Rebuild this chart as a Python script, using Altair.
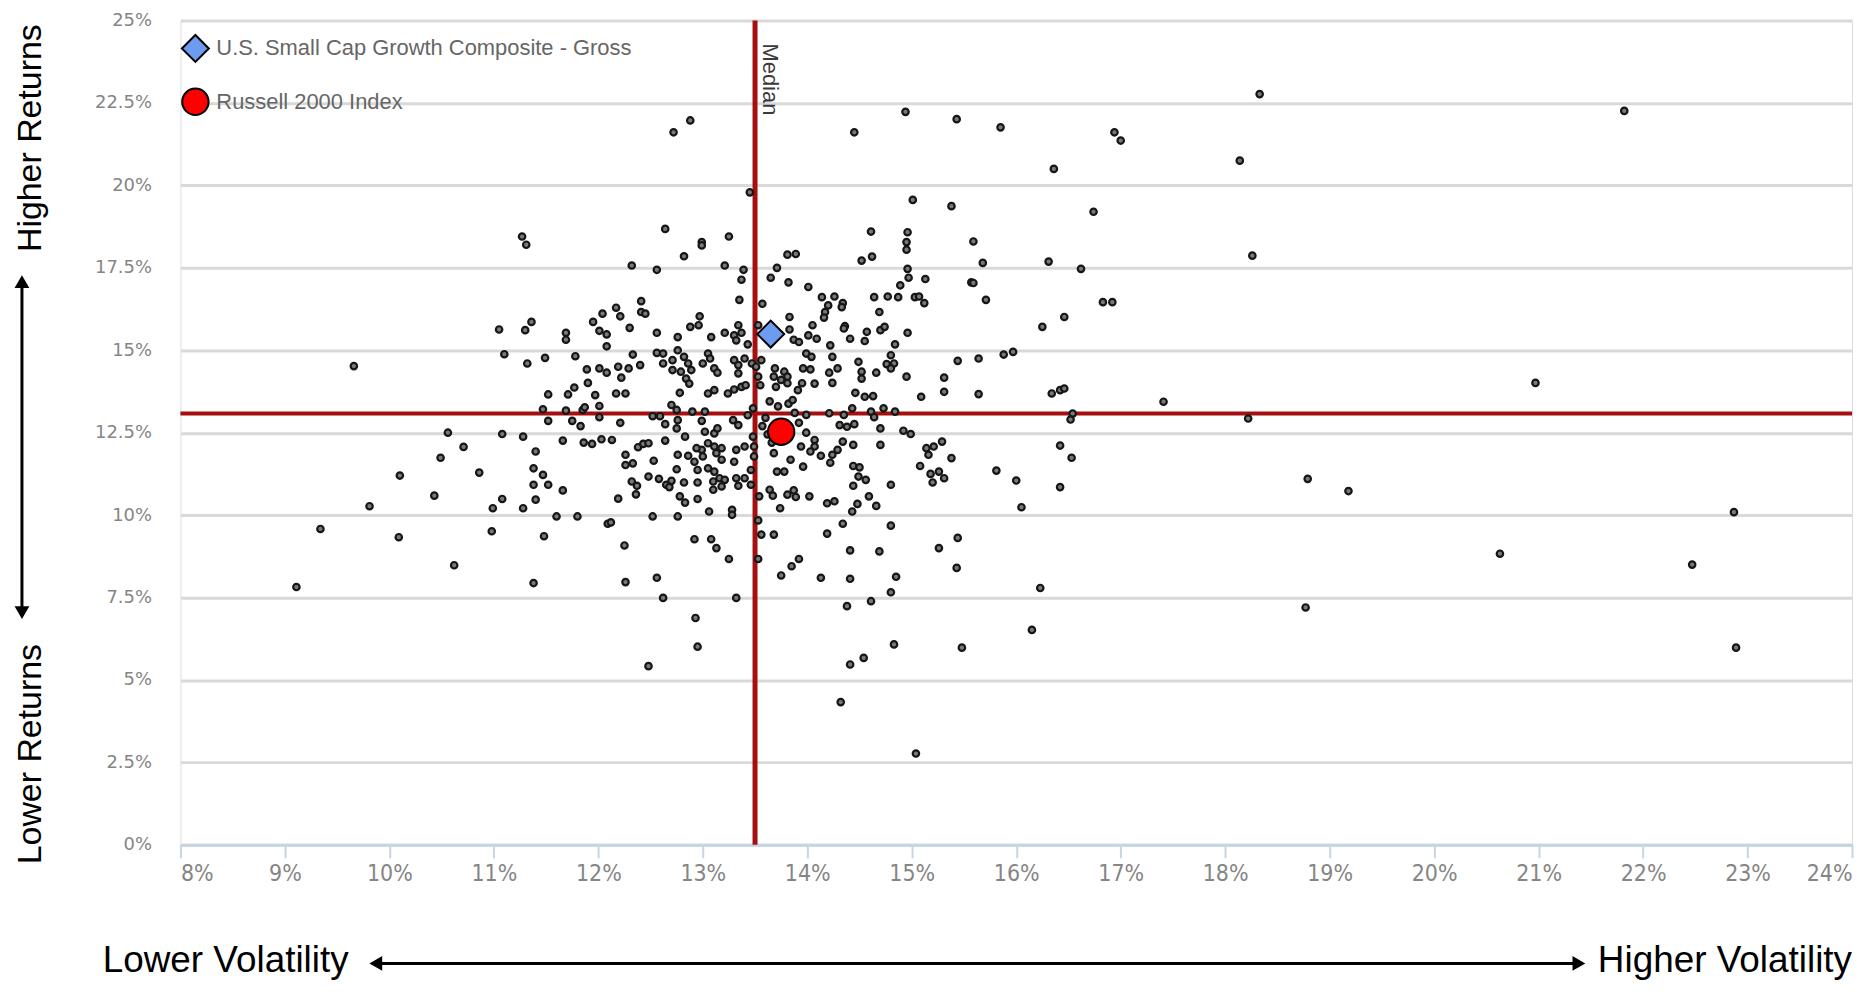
import altair as alt
import pandas as pd

# ---------------- data (annualised volatility %, annualised return %) ----------------
peers_core_upper_left = [
    [13.45, 19.79], [11.27, 18.45], [11.31, 18.20], [12.64, 18.68], [12.99, 18.28], [12.99, 18.18],
    [13.25, 18.45], [12.82, 17.85], [12.32, 17.57], [12.56, 17.44], [13.21, 17.57], [13.39, 17.44],
    [13.37, 17.14], [13.35, 16.53], [13.57, 16.41], [12.41, 16.49], [12.41, 16.16], [12.45, 16.11],
    [12.17, 16.29], [12.21, 16.03], [12.04, 16.11], [11.95, 15.86], [12.01, 15.59], [12.08, 15.48],
    [12.08, 15.12], [12.30, 15.68], [12.56, 15.53], [12.76, 15.40], [12.97, 16.03], [12.96, 15.76],
    [12.88, 15.71], [13.08, 15.40], [13.21, 15.53], [13.34, 15.76], [13.30, 15.45], [13.37, 15.53],
    [13.32, 15.30], [13.43, 15.18], [13.53, 15.76], [11.05, 15.63], [11.30, 15.61], [11.36, 15.86],
    [11.69, 15.53], [11.69, 15.32], [11.10, 14.88], [11.32, 14.60], [11.49, 14.77], [11.78, 14.82],
    [12.33, 14.87], [12.40, 14.55], [11.89, 14.42], [12.01, 14.45], [12.08, 14.32], [12.19, 14.50],
    [12.22, 14.17], [12.29, 14.45], [11.90, 14.01], [11.52, 13.66], [11.71, 13.66], [11.77, 13.87],
    [11.97, 13.64], [12.17, 13.69], [12.26, 13.69], [12.56, 14.92], [12.62, 14.90], [12.62, 14.60],
    [12.71, 14.70], [12.76, 15.00], [12.82, 14.80], [12.71, 14.40], [12.79, 14.35], [12.86, 14.60],
    [12.89, 14.40], [12.84, 14.14], [12.87, 13.99], [13.00, 14.60], [13.05, 14.90], [13.07, 14.75],
    [13.11, 14.45], [13.14, 14.32], [13.30, 14.70], [13.34, 14.55], [13.40, 14.75], [13.47, 14.60],
    [13.51, 14.50], [13.56, 14.70], [13.53, 14.20], [13.34, 14.30], [13.37, 13.89], [13.41, 13.94],
    [13.55, 13.94], [12.78, 13.71], [13.05, 13.69], [13.11, 13.79], [13.24, 13.69], [13.30, 13.81],
]

peers_core_upper_right = [
    [15.01, 19.56], [15.38, 19.37], [14.61, 18.60], [14.96, 18.58], [14.95, 18.28], [14.95, 18.05],
    [15.59, 18.30], [13.81, 17.90], [13.89, 17.92], [14.52, 17.72], [14.62, 17.84], [15.68, 17.65],
    [16.31, 17.69], [13.71, 17.50], [13.65, 17.20], [13.82, 17.06], [14.01, 16.92], [14.96, 17.47],
    [14.97, 17.20], [15.13, 17.16], [14.89, 16.97], [15.57, 17.06], [15.59, 17.04], [15.71, 16.53],
    [14.14, 16.61], [14.26, 16.63], [14.20, 16.36], [14.34, 16.43], [14.33, 16.31], [14.17, 16.16],
    [14.16, 15.99], [14.64, 16.61], [14.77, 16.63], [14.87, 16.61], [15.03, 16.61], [15.07, 16.63],
    [15.12, 16.43], [14.69, 16.16], [13.83, 16.01], [14.05, 15.76], [14.01, 15.45], [14.09, 15.35],
    [14.36, 15.73], [14.35, 15.66], [14.41, 15.35], [14.57, 15.56], [14.55, 15.28], [14.70, 15.61],
    [14.74, 15.71], [14.96, 15.53], [13.83, 15.63], [13.87, 15.32], [13.92, 15.25], [14.22, 15.15],
    [14.24, 14.80], [13.99, 14.90], [14.04, 14.80], [14.84, 15.18], [14.80, 14.85], [14.76, 14.58],
    [14.83, 14.60], [14.80, 14.45], [14.49, 14.65], [14.52, 14.35], [14.52, 14.14], [14.66, 14.32],
    [14.95, 14.20], [15.31, 14.17], [15.44, 14.68], [15.64, 14.75], [15.88, 14.87], [15.97, 14.95],
    [16.25, 15.71], [16.46, 16.01], [13.69, 14.45], [13.78, 14.35], [13.68, 14.20], [13.75, 14.10],
    [13.81, 14.00], [13.70, 13.89], [13.81, 14.20], [13.96, 14.45], [14.03, 14.42], [13.95, 14.00],
    [13.91, 13.79], [14.21, 14.32], [14.29, 14.45], [14.24, 14.01], [14.07, 13.99], [14.46, 13.71],
    [14.55, 13.59], [14.63, 13.61], [15.09, 13.59], [15.31, 13.74], [15.64, 13.67], [16.34, 13.69],
    [16.42, 13.79], [16.46, 13.84],
]

peers_core_lower_left = [
    [11.47, 13.21], [11.69, 13.17], [11.85, 13.19], [11.87, 13.27], [12.01, 13.31], [12.01, 12.97],
    [11.52, 12.86], [11.75, 12.86], [11.83, 12.70], [12.21, 12.80], [11.08, 12.46], [11.28, 12.38],
    [11.66, 12.26], [11.86, 12.20], [11.94, 12.16], [12.03, 12.30], [12.13, 12.28], [11.40, 11.93],
    [10.86, 11.29], [11.38, 11.42], [11.47, 11.22], [11.52, 10.92], [11.38, 10.92], [11.66, 10.75],
    [11.08, 10.49], [10.99, 10.21], [11.28, 10.21], [11.40, 10.47], [11.60, 9.96], [11.80, 9.96],
    [12.09, 9.74], [12.12, 9.78], [10.98, 9.51], [11.48, 9.36], [12.25, 9.08], [12.19, 10.50],
    [12.32, 11.02], [12.37, 10.89], [12.36, 10.63], [12.26, 11.83], [12.26, 11.52], [12.33, 11.57],
    [12.38, 12.06], [12.43, 12.16], [12.48, 12.18], [12.52, 13.00], [12.59, 13.00], [12.64, 12.76],
    [12.64, 12.26], [12.53, 11.65], [12.48, 11.17], [12.58, 11.10], [12.65, 10.92], [12.70, 11.04],
    [12.68, 10.85], [12.78, 10.57], [12.83, 10.38], [12.52, 9.96], [12.76, 9.96], [12.95, 10.49],
    [12.82, 10.99], [12.95, 10.99], [12.75, 11.39], [12.76, 11.83], [12.83, 12.38], [12.70, 13.34],
    [12.75, 13.19], [12.76, 12.88], [12.75, 12.63], [12.90, 13.14], [12.99, 12.86], [13.02, 12.53],
    [13.05, 12.18], [12.99, 11.98], [12.86, 11.80], [12.92, 11.62], [12.95, 11.37], [13.05, 11.42],
    [13.11, 12.48], [13.14, 12.63], [13.11, 12.08], [13.18, 12.03], [13.13, 11.88], [13.18, 11.68],
    [13.11, 11.32], [13.16, 11.12], [13.18, 10.87], [13.10, 10.77], [13.10, 11.02], [13.21, 11.07],
    [13.30, 11.62], [13.32, 11.98], [13.32, 11.12], [13.34, 10.89], [13.29, 12.88], [13.34, 12.73],
    [13.43, 13.03], [13.48, 13.24], [13.40, 12.08], [13.48, 12.38], [13.49, 12.08], [13.49, 11.78],
    [13.46, 11.37], [13.46, 10.92], [13.40, 11.12], [13.54, 10.57], [13.06, 10.11], [13.28, 10.16],
    [13.28, 10.01], [12.92, 9.27], [13.08, 9.27], [13.13, 9.00], [13.25, 8.67], [13.53, 9.84],
    [13.56, 9.41], [13.53, 8.67], [11.38, 7.94], [12.26, 7.97], [12.56, 8.10], [12.62, 7.49],
    [13.32, 7.49], [12.94, 12.03], [13.00, 11.78], [13.02, 13.14],
]

peers_core_lower_right = [
    [13.99, 13.04], [14.21, 13.09], [14.35, 13.04], [14.43, 13.24], [14.61, 13.14], [14.64, 12.97],
    [14.73, 13.24], [14.84, 13.14], [14.31, 12.73], [14.45, 12.76], [14.38, 12.68], [14.70, 12.63],
    [14.92, 12.56], [14.99, 12.46], [13.99, 12.50], [14.07, 12.28], [14.07, 12.08], [13.94, 12.08],
    [14.34, 12.23], [14.29, 11.98], [14.24, 11.83], [14.22, 11.59], [14.13, 11.80], [14.03, 11.93],
    [14.44, 12.13], [14.70, 12.13], [13.68, 11.88], [13.84, 11.68], [13.96, 11.47], [13.71, 11.32],
    [13.78, 11.32], [13.64, 10.77], [13.67, 10.59], [13.81, 10.62], [13.87, 10.75], [13.89, 10.55],
    [14.02, 10.57], [13.74, 10.21], [14.44, 11.49], [14.50, 11.45], [14.49, 11.17], [14.56, 11.07],
    [14.44, 10.89], [14.80, 10.92], [14.59, 10.57], [14.66, 10.28], [14.48, 10.34], [14.43, 10.11],
    [14.19, 10.36], [14.26, 10.42], [14.34, 9.74], [14.19, 9.44], [13.68, 9.41], [14.80, 9.68],
    [15.14, 12.03], [15.21, 12.08], [15.16, 11.83], [15.29, 12.23], [15.38, 11.73], [15.08, 11.49],
    [15.18, 11.25], [15.26, 11.32], [15.31, 11.12], [15.20, 10.99], [15.81, 11.35], [16.00, 11.05],
    [16.05, 10.24], [16.42, 12.11], [16.42, 10.85], [14.41, 8.93], [14.69, 8.90], [13.92, 8.67],
    [13.85, 8.45], [13.75, 8.17], [14.13, 8.10], [14.41, 8.07], [14.85, 8.13], [14.80, 7.66],
    [15.26, 9.00], [15.44, 9.31], [15.43, 8.40], [16.23, 7.79], [14.38, 7.24], [14.61, 7.39],
    [13.64, 13.45], [13.72, 13.30], [13.82, 13.38], [13.86, 13.49], [13.60, 12.95], [13.57, 12.70],
    [13.62, 12.45], [13.66, 12.20], [13.92, 12.80], [13.88, 13.10],
]

peers_outer = [
    [12.93, 6.88], [12.95, 6.01], [12.48, 5.42], [14.32, 4.33], [14.41, 5.47], [14.54, 5.67],
    [14.83, 6.08], [15.04, 2.77], [15.48, 5.98], [16.15, 6.52], [10.62, 8.48], [10.56, 12.50],
    [10.71, 12.07], [9.11, 7.82], [9.34, 9.58], [9.66, 14.52], [9.81, 10.27], [10.09, 9.33],
    [10.10, 11.20], [10.43, 10.59], [10.49, 11.74],
    [12.72, 21.61], [12.88, 21.97], [14.45, 21.61], [14.94, 22.23], [15.43, 22.01], [15.85, 21.76],
    [16.36, 20.50], [16.94, 21.61], [17.00, 21.36], [18.33, 22.77], [21.82, 22.26], [18.14, 20.75],
    [16.74, 19.20], [18.26, 17.87], [16.62, 17.47], [16.92, 16.46], [16.83, 16.46], [17.41, 13.44],
    [20.97, 14.01], [18.22, 12.93], [16.54, 13.08], [16.52, 12.90], [16.53, 11.74], [18.79, 11.10],
    [19.18, 10.73], [22.87, 10.09], [20.63, 8.83], [22.47, 8.50], [18.77, 7.20], [22.89, 5.98],
]

highlight_names = ["U.S. Small Cap Growth Composite - Gross", "Russell 2000 Index"]
highlight_vol = [13.65, 13.75]
highlight_ret = [15.49, 12.53]
highlight_colors = ["#6c9bef", "#ff0000"]
highlight_shapes = ["diamond", "circle"]

median_vol = [13.5]
median_ret = [13.08]

x_ticks = list(range(8, 25))
y_ticks = [0, 2.5, 5, 7.5, 10, 12.5, 15, 17.5, 20, 22.5, 25]

# ---------------- chart ----------------
W, H = 1677, 827
NARROW = "Liberation Sans Narrow, DejaVu Sans Condensed, Liberation Sans, sans-serif"
SANS = "Liberation Sans, Arial, sans-serif"
RED = "#a50f0f"

all_pairs = (peers_core_upper_left + peers_core_upper_right + peers_core_lower_left
             + peers_core_lower_right + peers_outer)
peers_df = pd.DataFrame(all_pairs, columns=["vol", "ret"])

xs = alt.Scale(domain=[8, 24], nice=False, zero=False)
ys = alt.Scale(domain=[0, 25], nice=False, zero=False)

x_axis = alt.Axis(values=x_ticks, labelExpr="datum.value + '%'", title=None, grid=False,
                  domainColor="#c6d5e4", domainWidth=3, ticks=True, tickColor="#c6d5e4",
                  tickWidth=2, tickSize=13, labelFont=NARROW, labelFontSize=23,
                  labelColor="#858585", labelPadding=5)
y_axis = alt.Axis(values=y_ticks, labelExpr="datum.value + '%'", title=None, grid=True,
                  gridColor="#d9d9d9", gridWidth=3, domain=False, ticks=False, tickSize=0,
                  labelFont="DejaVu Sans", labelFontSize=18, labelColor="#858585",
                  labelPadding=29)

med_v = alt.Chart(pd.DataFrame({"vol": median_vol})).mark_rule(color=RED, strokeWidth=5).encode(
    x=alt.X("vol:Q", scale=xs, axis=x_axis))
med_h = alt.Chart(pd.DataFrame({"ret": median_ret})).mark_rule(color=RED, strokeWidth=4).encode(
    y=alt.Y("ret:Q", scale=ys, axis=y_axis))

peers = alt.Chart(peers_df).mark_point(shape="circle", filled=True, size=42, fill="#7a7a7a",
                                       stroke="#161616", strokeWidth=2.2, opacity=1).encode(
    x=alt.X("vol:Q", scale=xs), y=alt.Y("ret:Q", scale=ys))

hl_df = pd.DataFrame({"name": highlight_names, "vol": highlight_vol, "ret": highlight_ret})
legend = alt.Legend(orient="none", legendX=0, legendY=13, title=None, direction="vertical",
                    labelFont=SANS, labelFontSize=22, labelColor="#666666", labelOffset=6,
                    labelLimit=0, symbolSize=560, symbolStrokeColor="black", symbolStrokeWidth=2,
                    rowPadding=18, padding=0)
highlights = alt.Chart(hl_df).mark_point(filled=True, opacity=1, stroke="black", strokeWidth=2).encode(
    x=alt.X("vol:Q", scale=xs), y=alt.Y("ret:Q", scale=ys),
    color=alt.Color("name:N", scale=alt.Scale(domain=highlight_names, range=highlight_colors), legend=legend),
    shape=alt.Shape("name:N", scale=alt.Scale(domain=highlight_names, range=highlight_shapes), legend=legend),
    size=alt.Size("name:N", scale=alt.Scale(domain=highlight_names, range=[730, 700]), legend=None),
)


def label(text, x, y, angle=0, align="center", size=36, font=SANS, color="black"):
    return alt.Chart(pd.DataFrame({"t": [text]})).mark_text(
        angle=angle, align=align, baseline="alphabetic", font=font, fontSize=size, color=color
    ).encode(text="t:N", x=alt.value(x), y=alt.value(y))


def seg(x1, y1, x2, y2, w=3):
    return alt.Chart(pd.DataFrame({"a": [0]})).mark_rule(color="black", strokeWidth=w).encode(
        x=alt.value(x1), y=alt.value(y1), x2=alt.value(x2), y2=alt.value(y2))


def head(shape, x, y, size=220):
    return alt.Chart(pd.DataFrame({"a": [0]})).mark_point(
        shape=shape, filled=True, size=size, color="black", opacity=1).encode(
        x=alt.value(x), y=alt.value(y))


median_label = label("Median", 584, 23, angle=90, align="left", size=22, color="#3a3a3a")

bottom_y = 955
arrow_y = 946
annotations = [
    label("Higher Returns", -140, 118, angle=270, size=34),
    label("Lower Returns", -140, 736, angle=270, size=34),
    seg(-159, 262, -159, 594),
    head("triangle-up", -159, 262),
    head("triangle-down", -159, 594),
    label("Lower Volatility", -78, bottom_y, align="left", size=37),
    label("Higher Volatility", 1677, bottom_y, align="right", size=37),
    seg(197, arrow_y, 1402, arrow_y),
    head("triangle-left", 196, arrow_y),
    head("triangle-right", 1403, arrow_y),
]

chart = alt.layer(med_v, med_h, peers, highlights, median_label, *annotations).properties(
    width=W, height=H,
    autosize=alt.AutoSizeParams(type="none"),
    padding={"left": 173, "top": 11, "right": 4, "bottom": 134},
).configure_view(stroke=None).configure(background="white")

chart.save("out.html", embed_options={"renderer": "svg", "actions": False})
